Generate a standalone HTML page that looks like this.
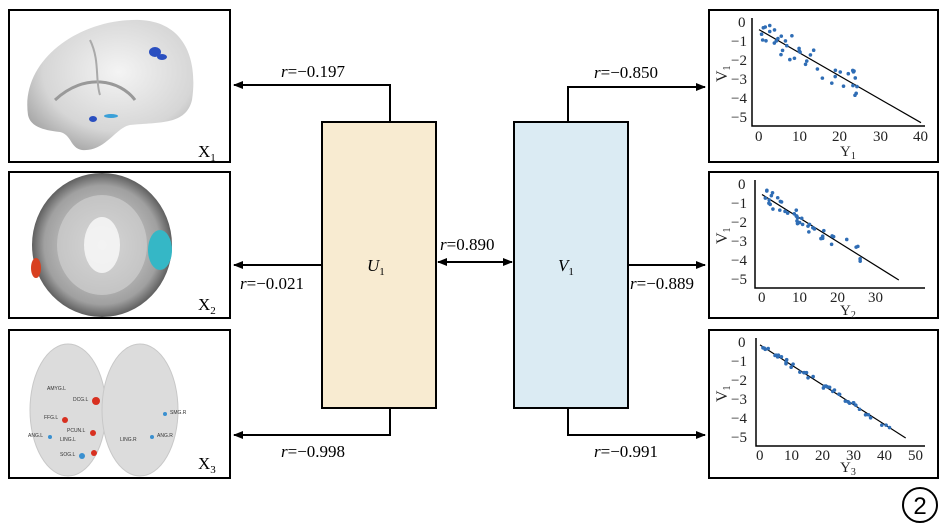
<!DOCTYPE html>
<html><head><meta charset="utf-8"><style>
html,body{margin:0;padding:0;background:#fff;}
svg{display:block;font-family:"Liberation Serif",serif;}
.lab{font-size:17px;}
.tk{font-size:15px;fill:#222;}
</style></head><body>
<svg id="s" width="945" height="531" viewBox="0 0 945 531" xmlns="http://www.w3.org/2000/svg">
<defs>
<marker id="ah" markerWidth="10" markerHeight="8" refX="9" refY="4" orient="auto" markerUnits="userSpaceOnUse"><path d="M0,0 L10,4 L0,8 Z" fill="#000"/></marker>
<marker id="ahs" markerWidth="10" markerHeight="8" refX="1" refY="4" orient="auto" markerUnits="userSpaceOnUse"><path d="M10,0 L0,4 L10,8 Z" fill="#000"/></marker>
<radialGradient id="gb" cx="55%" cy="40%" r="65%"><stop offset="0" stop-color="#f4f4f4"/><stop offset="0.7" stop-color="#d6d6d6"/><stop offset="1" stop-color="#a8a8a8"/></radialGradient>
<radialGradient id="ga" cx="50%" cy="50%" r="55%"><stop offset="0" stop-color="#e4e4e4"/><stop offset="0.75" stop-color="#a0a0a0"/><stop offset="1" stop-color="#3a3a3a"/></radialGradient>
</defs>

<rect x="9" y="10" width="221" height="152" fill="#fff" stroke="#000" stroke-width="2"/>
<path d="M28,115 C20,60 80,18 140,20 C185,22 198,60 192,100 C186,125 160,122 130,125 C115,128 105,152 82,150 C70,148 72,135 60,132 C40,130 30,125 28,115Z" fill="url(#gb)"/>
<path d="M55,100 C85,72 120,80 135,100" stroke="#999" stroke-width="3" fill="none"/>
<path d="M90,40 C100,60 95,80 100,95" stroke="#aaa" stroke-width="2" fill="none"/>
<ellipse cx="155" cy="52" rx="6" ry="5" fill="#2a4fc0"/><ellipse cx="162" cy="57" rx="5" ry="3" fill="#2a4fc0"/><ellipse cx="93" cy="119" rx="4" ry="3" fill="#2a4fc0"/><ellipse cx="111" cy="116" rx="7" ry="2" fill="#3aa0d8"/>
<text x="198" y="157" class="lab">X<tspan font-size="11" dy="4">1</tspan></text>

<rect x="9" y="172" width="221" height="146" fill="#fff" stroke="#000" stroke-width="2"/>
<ellipse cx="102" cy="245" rx="70" ry="72" fill="url(#ga)"/>
<ellipse cx="102" cy="245" rx="45" ry="50" fill="#cfcfcf" opacity="0.7"/>
<ellipse cx="102" cy="245" rx="18" ry="28" fill="#fafafa" opacity="0.8"/>
<ellipse cx="160" cy="250" rx="12" ry="20" fill="#35b7c6"/><ellipse cx="36" cy="268" rx="5" ry="10" fill="#d84020"/>
<text x="198" y="310" class="lab">X<tspan font-size="11" dy="4">2</tspan></text>

<rect x="9" y="330" width="221" height="148" fill="#fff" stroke="#000" stroke-width="2"/>
<ellipse cx="68" cy="410" rx="38" ry="66" fill="#dcdcdc" stroke="#c8c8c8"/>
<ellipse cx="140" cy="410" rx="38" ry="66" fill="#dcdcdc" stroke="#c8c8c8"/>
<circle cx="96" cy="401" r="4" fill="#d83020"/><circle cx="65" cy="420" r="3" fill="#d83020"/><circle cx="93" cy="433" r="3" fill="#d83020"/><circle cx="94" cy="453" r="3" fill="#d83020"/><circle cx="50" cy="437" r="2" fill="#3a90d0"/><circle cx="165" cy="414" r="2" fill="#3a90d0"/><circle cx="152" cy="437" r="2" fill="#3a90d0"/><circle cx="82" cy="456" r="3" fill="#3a90d0"/>
<g font-family="Liberation Sans,sans-serif" font-size="5" fill="#333"><text x="47" y="390">AMYG.L</text><text x="73" y="401">DCG.L</text><text x="44" y="419">FFG.L</text><text x="28" y="437">ANG.L</text><text x="67" y="432">PCUN.L</text><text x="60" y="441">LING.L</text><text x="60" y="456">SOG.L</text><text x="170" y="414">SMG.R</text><text x="120" y="441">LING.R</text><text x="157" y="437">ANG.R</text></g>
<text x="198" y="469" class="lab">X<tspan font-size="11" dy="4">3</tspan></text>

<rect x="322" y="122" width="114" height="286" fill="#f8ebd1" stroke="#000" stroke-width="2"/>
<rect x="514" y="122" width="114" height="286" fill="#dbebf3" stroke="#000" stroke-width="2"/>
<text x="367" y="271" class="lab" font-style="italic">U<tspan font-size="11" dy="4" font-style="normal">1</tspan></text>
<text x="558" y="271" class="lab" font-style="italic">V<tspan font-size="11" dy="4" font-style="normal">1</tspan></text>

<g stroke="#000" stroke-width="2" fill="none">
<path d="M390,122 V85 H234" marker-end="url(#ah)"/>
<path d="M322,265 H234" marker-end="url(#ah)"/>
<path d="M390,408 V435 H234" marker-end="url(#ah)"/>
<path d="M438,262 H512" marker-end="url(#ah)" marker-start="url(#ahs)"/>
<path d="M568,122 V87 H705" marker-end="url(#ah)"/>
<path d="M628,265 H705" marker-end="url(#ah)"/>
<path d="M568,408 V435 H705" marker-end="url(#ah)"/>
</g>
<g class="lab">
<text x="281" y="77"><tspan font-style="italic">r</tspan>=−0.197</text>
<text x="240" y="289"><tspan font-style="italic">r</tspan>=−0.021</text>
<text x="281" y="457"><tspan font-style="italic">r</tspan>=−0.998</text>
<text x="440" y="250"><tspan font-style="italic">r</tspan>=0.890</text>
<text x="594" y="78"><tspan font-style="italic">r</tspan>=−0.850</text>
<text x="630" y="289"><tspan font-style="italic">r</tspan>=−0.889</text>
<text x="594" y="457"><tspan font-style="italic">r</tspan>=−0.991</text>
</g>

<rect x="709" y="10" width="229" height="152" fill="#fff" stroke="#000" stroke-width="2"/>
<rect x="709" y="172" width="229" height="146" fill="#fff" stroke="#000" stroke-width="2"/>
<rect x="709" y="330" width="229" height="148" fill="#fff" stroke="#000" stroke-width="2"/>
<g id="plots"></g>
<g class="tk">
<text x="738" y="27">0</text><text x="731" y="46">−1</text><text x="731" y="65">−2</text><text x="731" y="84">−3</text><text x="731" y="103">−4</text><text x="731" y="122">−5</text>
<text x="755" y="141">0</text><text x="792" y="141">10</text><text x="832" y="141">20</text><text x="873" y="141">30</text><text x="913" y="141">40</text>
<text x="840" y="156" font-size="15">Y<tspan font-size="10" dy="3">1</tspan></text>
<text x="738" y="189">0</text><text x="731" y="208">−1</text><text x="731" y="227">−2</text><text x="731" y="246">−3</text><text x="731" y="265">−4</text><text x="731" y="284">−5</text>
<text x="758" y="302">0</text><text x="792" y="302">10</text><text x="830" y="302">20</text><text x="868" y="302">30</text>
<text x="840" y="315" font-size="15">Y<tspan font-size="10" dy="3">2</tspan></text>
<text x="738" y="347">0</text><text x="731" y="366">−1</text><text x="731" y="385">−2</text><text x="731" y="404">−3</text><text x="731" y="423">−4</text><text x="731" y="442">−5</text>
<text x="756" y="460">0</text><text x="784" y="460">10</text><text x="815" y="460">20</text><text x="846" y="460">30</text><text x="877" y="460">40</text><text x="908" y="460">50</text>
<text x="840" y="472" font-size="15">Y<tspan font-size="10" dy="3">3</tspan></text>
<text x="727" y="82" font-size="16" transform="rotate(-90 727 82)">V<tspan font-size="10" dy="3">1</tspan></text>
<text x="727" y="244" font-size="16" transform="rotate(-90 727 244)">V<tspan font-size="10" dy="3">1</tspan></text>
<text x="727" y="402" font-size="16" transform="rotate(-90 727 402)">V<tspan font-size="10" dy="3">1</tspan></text>
</g>

<circle cx="920" cy="505" r="17" fill="none" stroke="#000" stroke-width="2"/>
<text x="920" y="514" text-anchor="middle" font-family="Liberation Sans,sans-serif" font-size="24">2</text>
</svg>
<script>
(function(){
var g=document.getElementById('plots'),ns='http://www.w3.org/2000/svg';
function el(t,a){var e=document.createElementNS(ns,t);for(var k in a)e.setAttribute(k,a[k]);g.appendChild(e);}
var P=[
 {x0:759,sx:4.05,y0:22,sy:19,ax:752,ay:126,top:18,right:925,line:[[0,-0.4],[40,-5.3]],slope:-0.12,b:-0.4,xmax:25,seed:3,spread:0.7},
 {x0:762,sx:3.8,y0:185,sy:19,ax:755,ay:288,top:180,right:925,line:[[0,-0.5],[36,-5]],slope:-0.125,b:-0.5,xmax:27,seed:7,spread:0.45},
 {x0:760,sx:3.1,y0:343,sy:19,ax:756,ay:446,top:338,right:925,line:[[0,-0.1],[47,-5]],slope:-0.104,b:-0.1,xmax:43,seed:11,spread:0.15}
];
P.forEach(function(p){
 el('path',{d:'M'+p.ax+','+p.top+' V'+p.ay+' H'+p.right,stroke:'#000','stroke-width':1.5,fill:'none'});
 var L=p.line;
 el('line',{x1:p.x0+L[0][0]*p.sx,y1:p.y0-L[0][1]*p.sy,x2:p.x0+L[1][0]*p.sx,y2:p.y0-L[1][1]*p.sy,stroke:'#000','stroke-width':1.2});
 var s=p.seed;function r(){s=(s*9301+49297)%233280;return s/233280;}
 for(var i=0;i<42;i++){var x=Math.pow(r(),1.4)*p.xmax+0.5;var y=p.b+p.slope*x+(r()-0.5)*2*p.spread;if(y>-0.1)y=-0.1-r()*0.3;
  el('circle',{cx:p.x0+x*p.sx,cy:p.y0-y*p.sy,r:1.8,fill:'#2f6db5'});}
});
})();
</script>
</body></html>
